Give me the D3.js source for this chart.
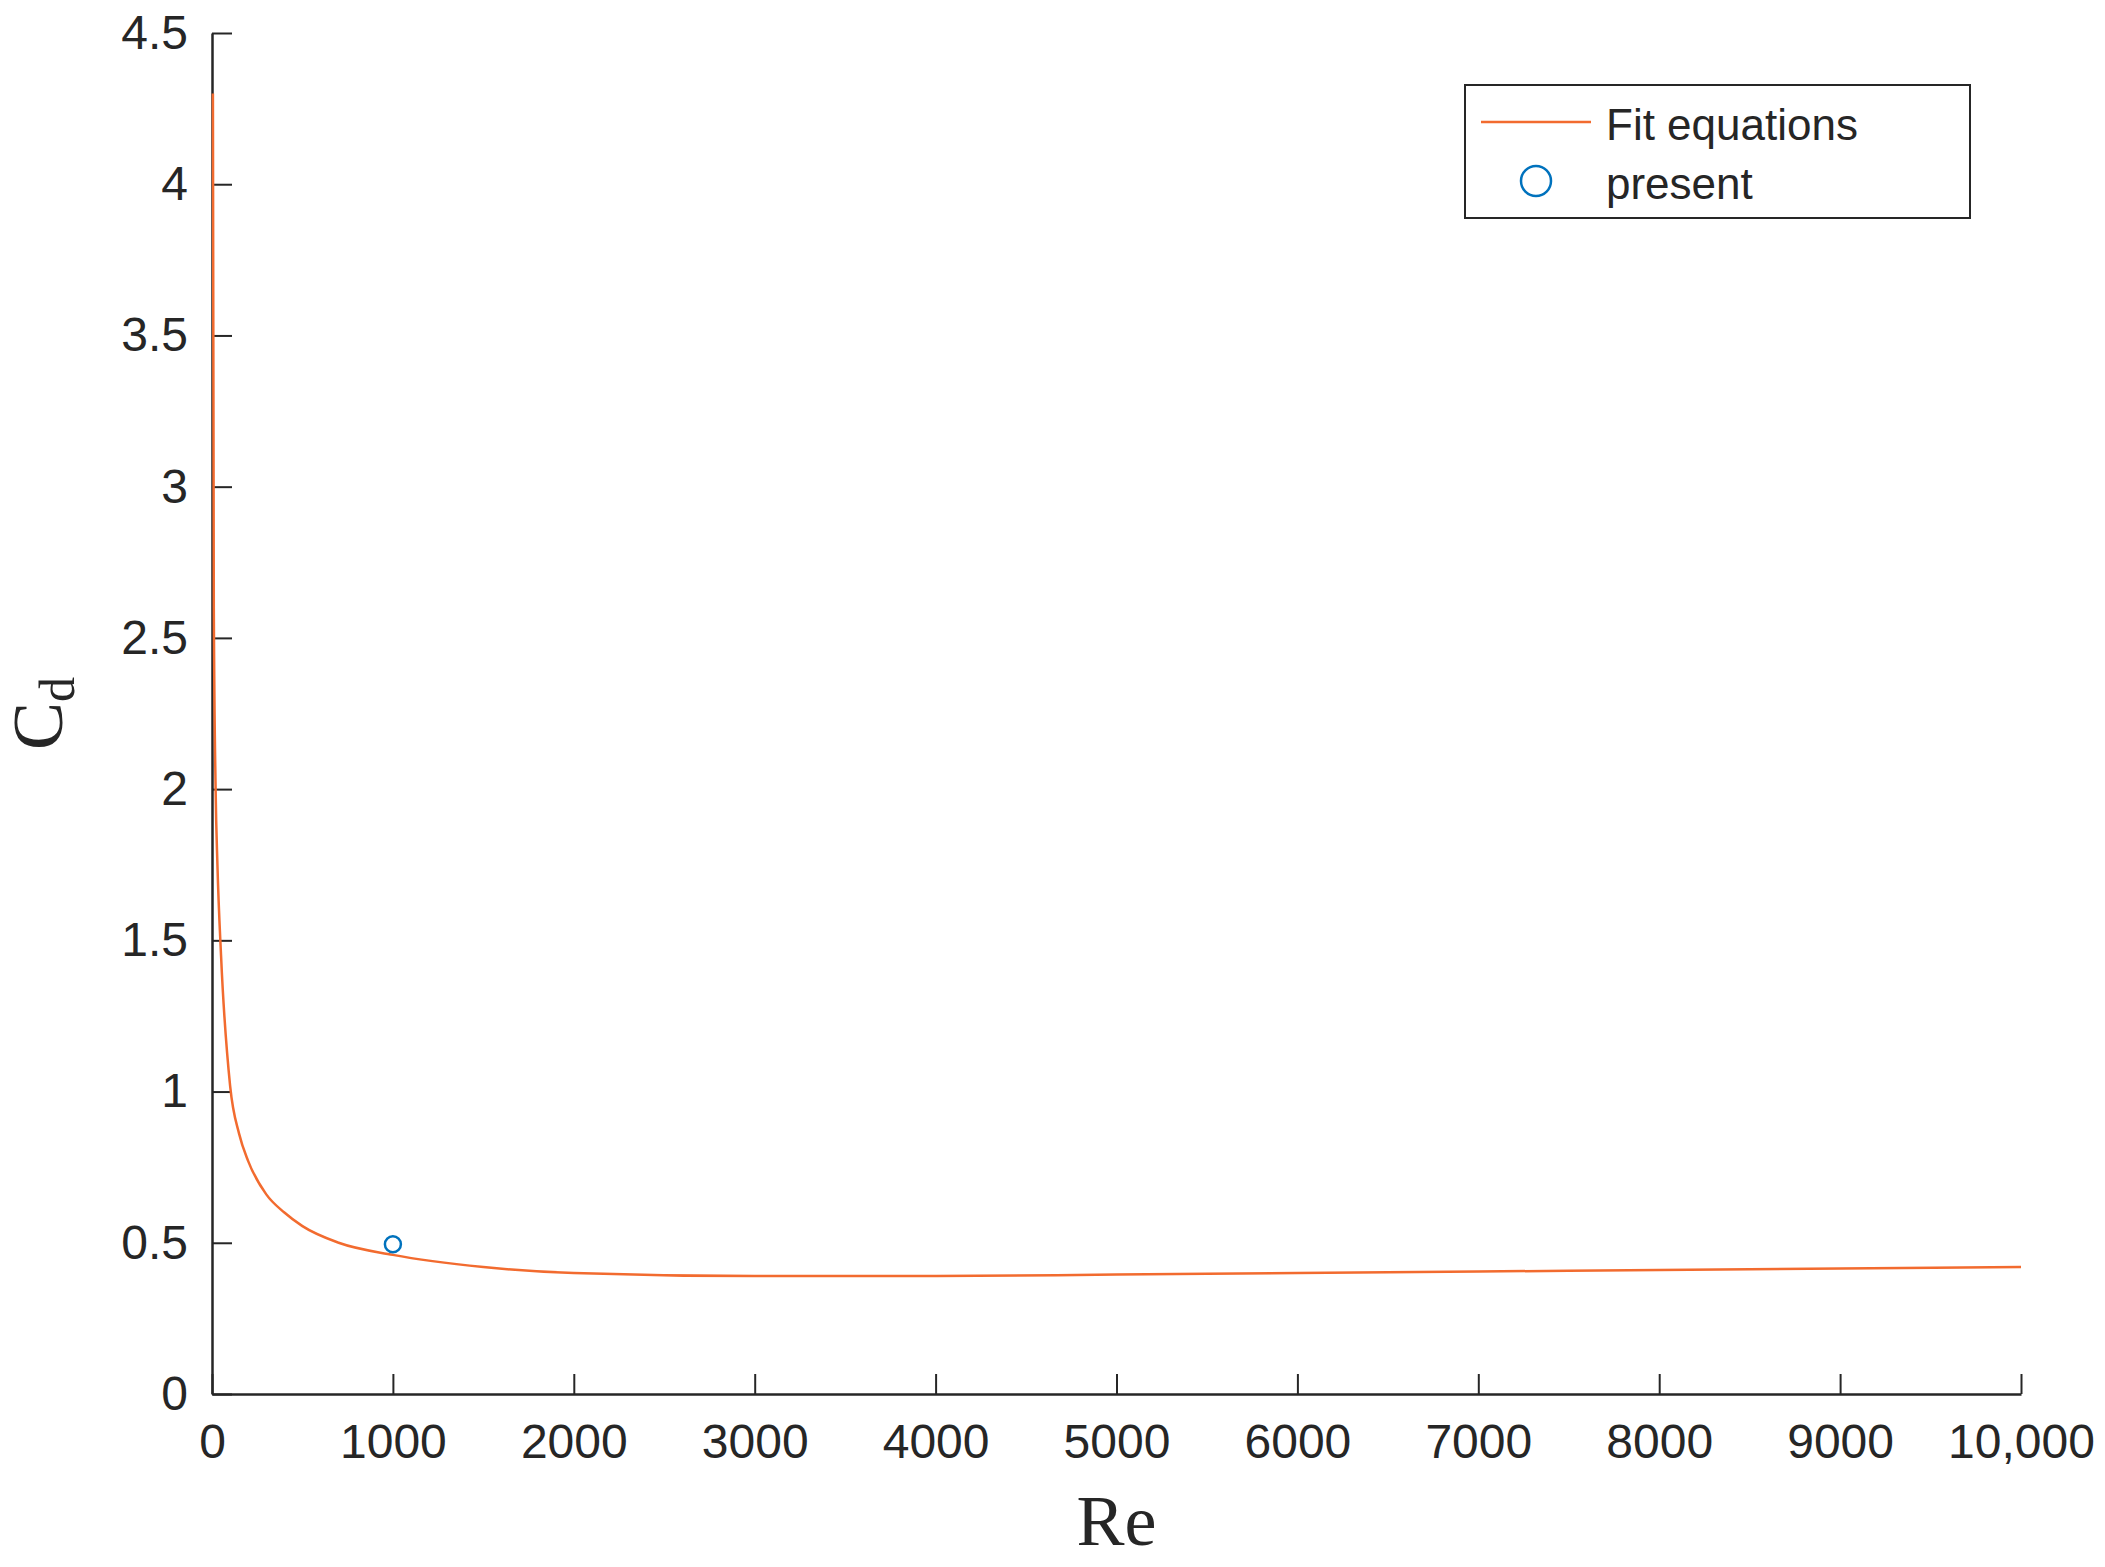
<!DOCTYPE html>
<html><head><meta charset="utf-8">
<script src="https://cdn.jsdelivr.net/npm/d3@7"></script>
<style>body{margin:0;background:#fff}</style></head>
<body><svg id="c" width="2105" height="1567"></svg>
<script>
const fitRe = [5,10,20,30,50,100,150,200,300,400,500,700,1000,1500,2000,3000,4000,5000,6000,7000,8000,9000,10000];
const fitCd = [4.3,2.6,2.0,1.75,1.45,1.02,0.86,0.77,0.66,0.6,0.555,0.5,0.46,0.42,0.40,0.39,0.39,0.395,0.40,0.405,0.41,0.415,0.42];
const presentRe = [1000];
const presentCd = [0.495];
const xTicks = [0,1000,2000,3000,4000,5000,6000,7000,8000,9000,10000];
const yTicks = [0,0.5,1,1.5,2,2.5,3,3.5,4,4.5];

const svg = d3.select("#c");
const L=212,R=2021,T=33,B=1394;
const x = d3.scaleLinear().domain([0,10000]).range([L,R]);
const y = d3.scaleLinear().domain([0,4.5]).range([B,T]);
const font = "'Liberation Sans', Arial, sans-serif";

const xa = svg.append("g").attr("transform",`translate(0,${B})`)
  .call(d3.axisBottom(x).tickValues(xTicks).tickSizeInner(-20).tickSizeOuter(0).tickPadding(40)
    .tickFormat(d=>d===10000?"10,000":String(d)));
const ya = svg.append("g").attr("transform",`translate(${L},0)`)
  .call(d3.axisLeft(y).tickValues(yTicks).tickSizeInner(-20).tickSizeOuter(0).tickPadding(24)
    .tickFormat(d=>String(d)));
[xa,ya].forEach(a=>{
  a.selectAll("path").attr("stroke","#262626").attr("stroke-width",2.5);
  a.selectAll("line").attr("stroke","#262626").attr("stroke-width",2);
  a.selectAll("text").attr("font-family",font).attr("font-size",48).attr("fill","#262626");
});
xa.selectAll("text").attr("dy","0.5em");

svg.append("path").datum(fitRe.map((r,i)=>[r,fitCd[i]]))
  .attr("d",d3.line().x(d=>x(d[0])).y(d=>y(d[1])).curve(d3.curveMonotoneX))
  .attr("fill","none").attr("stroke","#f26b2f").attr("stroke-width",2.5);

svg.selectAll("circle.p").data(presentRe.map((r,i)=>[r,presentCd[i]])).join("circle")
  .attr("cx",d=>x(d[0])).attr("cy",d=>y(d[1])).attr("r",8)
  .attr("fill","none").attr("stroke","#0072BD").attr("stroke-width",2.5);

svg.append("text").attr("x",(L+R)/2).attr("y",1545).attr("text-anchor","middle")
  .attr("font-family","'Liberation Serif', serif").attr("font-size",72).attr("fill","#262626").text("Re");
const yl = svg.append("text").attr("transform",`translate(62,${(T+B)/2}) rotate(-90)`)
  .attr("text-anchor","middle").attr("font-family","'Liberation Serif', serif").attr("font-size",72).attr("fill","#262626");
yl.append("tspan").text("C");
yl.append("tspan").attr("font-size",50).attr("dy",12).text("d");

const lg = svg.append("g");
lg.append("rect").attr("x",1465).attr("y",85).attr("width",505).attr("height",133)
  .attr("fill","#fff").attr("stroke","#262626").attr("stroke-width",2);
lg.append("line").attr("x1",1481).attr("x2",1591).attr("y1",122).attr("y2",122)
  .attr("stroke","#f26b2f").attr("stroke-width",2.5);
lg.append("circle").attr("cx",1536).attr("cy",181).attr("r",15)
  .attr("fill","none").attr("stroke","#0072BD").attr("stroke-width",2.5);
lg.append("text").attr("x",1606).attr("y",125).attr("dy","0.35em").attr("font-family",font)
  .attr("font-size",44).attr("fill","#262626").text("Fit equations");
lg.append("text").attr("x",1606).attr("y",184).attr("dy","0.35em").attr("font-family",font)
  .attr("font-size",44).attr("fill","#262626").text("present");
</script></body></html>
